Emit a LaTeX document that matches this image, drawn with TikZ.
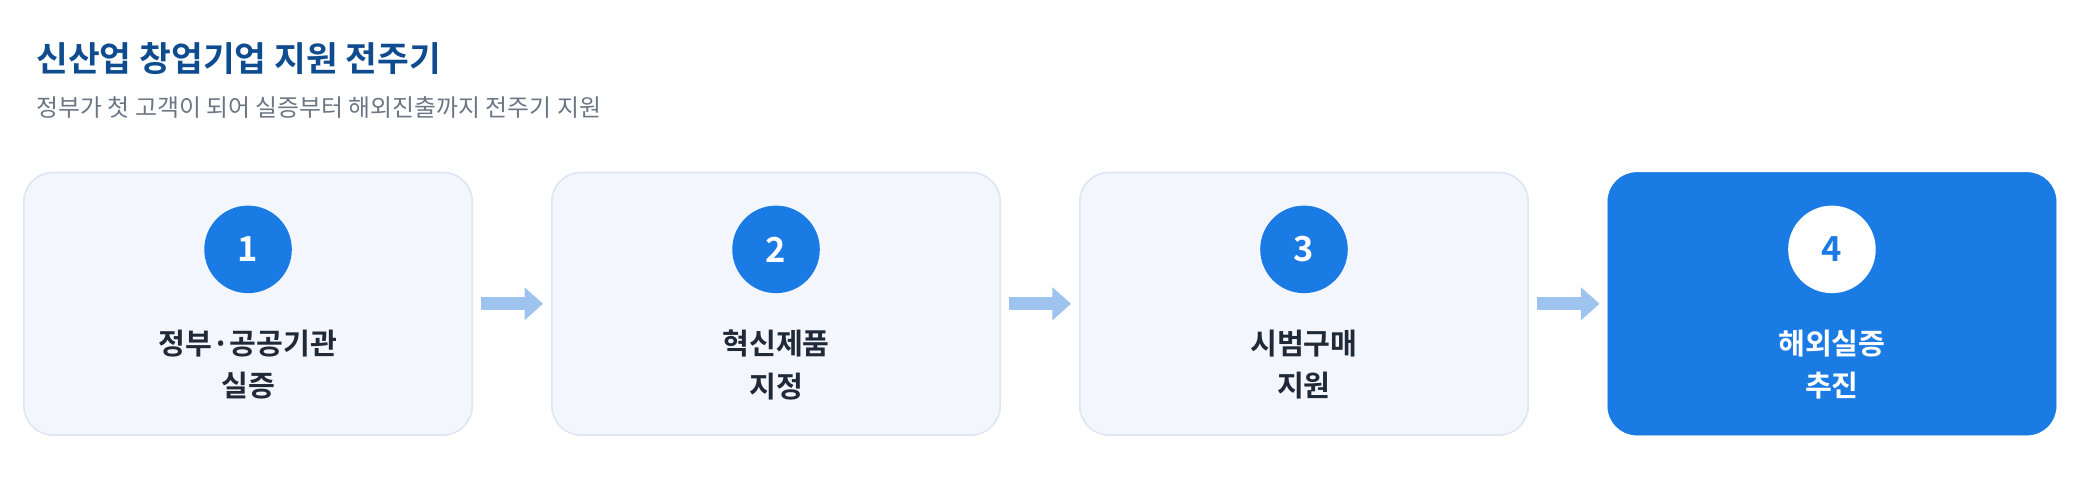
\documentclass[tikz,border=0pt]{standalone}
\usepackage{fontspec}
\setmainfont{Noto Sans CJK KR}[BoldFont={* Bold}]
\usetikzlibrary{positioning, arrows.meta}
\definecolor{navy}{HTML}{0F4C8F}
\definecolor{subgray}{HTML}{6B7684}
\definecolor{boxfill}{HTML}{F3F7FD}
\definecolor{boxline}{HTML}{DCE6F3}
\definecolor{stepblue}{HTML}{1B7BE4}
\definecolor{arrowblue}{HTML}{9DC3EE}
\definecolor{labeltext}{HTML}{1F2937}
\tikzset{
  stagebox/.style={rounded corners=22pt, minimum width=338pt, minimum height=198pt, fill=boxfill, draw=boxline, line width=1.2pt},
  lastbox/.style={rounded corners=22pt, minimum width=338pt, minimum height=198pt, fill=stepblue, draw=stepblue},
  badge/.style={circle, minimum size=66pt, fill=stepblue, text=white, font=\fontsize{26}{26}\selectfont\bfseries},
  stagelabel/.style={align=center, font=\fontsize{22}{32}\selectfont\bfseries, text=labeltext},
  flow/.style={-{Triangle[length=14pt, width=24pt]}, line width=10pt, arrowblue}
}
\begin{document}
\begin{tikzpicture}[x=1pt, y=1pt]
\useasboundingbox (0,0) rectangle (1568,-376);
% title %
\node[anchor=west, text=navy, font=\fontsize{26}{30}\selectfont\bfseries] (title) at (24,-44) {신산업 창업기업 지원 전주기};
\node[anchor=west, text=subgray, font=\fontsize{18}{22}\selectfont] (sub) at (24,-81) {정부가 첫 고객이 되어 실증부터 해외진출까지 전주기 지원};
% boxes %
\node[stagebox] (s1) at (187,-229) {};
\node[stagebox] (s2) at (585,-229) {};
\node[stagebox] (s3) at (983,-229) {};
\node[lastbox] (s4) at (1381,-229) {};
% badges %
\node[badge] (b1) at (187,-188) {1};
\node[badge] (b2) at (585,-188) {2};
\node[badge] (b3) at (983,-188) {3};
\node[badge, fill=white, text=stepblue] (b4) at (1381,-188) {4};
% labels %
\node[stagelabel] (t1) at (187,-275) {정부·공공기관\\실증};
\node[stagelabel] (t2) at (585,-275) {혁신제품\\지정};
\node[stagelabel] (t3) at (983,-275) {시범구매\\지원};
\node[stagelabel, text=white] (t4) at (1381,-275) {해외실증\\추진};
% arrows %
\draw[flow] ([xshift=6pt]s1.east) -- ([xshift=-6pt]s2.west);
\draw[flow] ([xshift=6pt]s2.east) -- ([xshift=-6pt]s3.west);
\draw[flow] ([xshift=6pt]s3.east) -- ([xshift=-6pt]s4.west);
\end{tikzpicture}
\end{document}
